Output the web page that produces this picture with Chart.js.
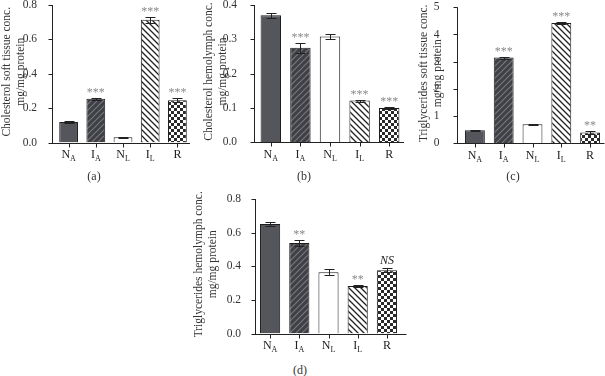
<!DOCTYPE html>
<html lang="en">
<head>
<meta charset="UTF-8">
<title>Cholesterol and triglycerides</title>
<script src="https://cdn.jsdelivr.net/npm/chart.js"></script>
<style>
  body { margin: 0; background: #fff; }
  #wrap { position: relative; width: 605px; height: 376px; overflow: hidden; }
  canvas { position: absolute; }
  .tag { position: absolute; font: 12px 'Liberation Serif', serif; color: #333; transform: translate(-50%, -50%); }
</style>
</head>
<body>
<div id="wrap">
  <canvas id="cA"></canvas>
  <canvas id="cB"></canvas>
  <canvas id="cC"></canvas>
  <canvas id="cD"></canvas>
  <div class="tag" style="left:94px;top:176px">(a)</div>
  <div class="tag" style="left:304px;top:176px">(b)</div>
  <div class="tag" style="left:513px;top:176px">(c)</div>
  <div class="tag" style="left:300px;top:370px">(d)</div>
</div>
<script>
// groups: first letter is drawn big, the rest as subscript
const groups = ['NA', 'IA', 'NL', 'IL', 'R'];

const cholSoft = [0.12, 0.254, 0.03, 0.714, 0.246];
const cholSoftErr = [0.005, 0.006, 0.002, 0.016, 0.012];
const cholSoftSig = ['', '***', '', '***', '***'];

const cholHemo = [0.37, 0.275, 0.308, 0.121, 0.099];
const cholHemoErr = [0.008, 0.015, 0.006, 0.003, 0.004];
const cholHemoSig = ['', '***', '', '***', '***'];

const trigSoft = [0.48, 3.15, 0.7, 4.42, 0.4];
const trigSoftErr = [0.02, 0.04, 0.02, 0.05, 0.07];
const trigSoftSig = ['', '***', '', '***', '**'];

const trigHemo = [0.651, 0.538, 0.365, 0.283, 0.376];
const trigHemoErr = [0.012, 0.02, 0.02, 0.006, 0.012];
const trigHemoSig = ['', '**', '', '**', 'NS'];

const SERIF = "'Liberation Serif', 'Times New Roman', serif";

// bar fills
function tile(draw) {
  const c = document.createElement('canvas');
  c.width = 6; c.height = 6;
  draw(c.getContext('2d'));
  return c.getContext('2d').createPattern(c, 'repeat');
}
const hatchDark = tile(g => {
  g.fillStyle = '#3f4045'; g.fillRect(0, 0, 6, 6);
  g.strokeStyle = '#77787d'; g.lineWidth = 1.2;
  g.beginPath();
  g.moveTo(0, 6); g.lineTo(6, 0);
  g.moveTo(-1, 1); g.lineTo(1, -1);
  g.moveTo(5, 7); g.lineTo(7, 5);
  g.stroke();
});
const hatchLight = tile(g => {
  g.fillStyle = '#fff'; g.fillRect(0, 0, 6, 6);
  g.strokeStyle = '#222'; g.lineWidth = 1.3;
  g.beginPath();
  g.moveTo(0, 0); g.lineTo(6, 6);
  g.moveTo(-1, 5); g.lineTo(1, 7);
  g.moveTo(5, -1); g.lineTo(7, 1);
  g.stroke();
});
const checker = tile(g => {
  g.fillStyle = '#fff'; g.fillRect(0, 0, 6, 6);
  g.fillStyle = '#2a2a2a';
  g.fillRect(0, 0, 3, 3); g.fillRect(3, 3, 3, 3);
});
const fills = ['#55565b', hatchDark, '#ffffff', hatchLight, checker];

function decor(p) {
  return {
    id: 'decor',
    afterDatasetsDraw(chart) {
      const ctx = chart.ctx, ca = chart.chartArea;
      const xs = chart.scales.x, ys = chart.scales.y;
      const ax = Math.round(ca.left - p.axisGap) + 0.5;
      const bot = Math.round(ca.bottom) + 0.5;
      ctx.save();
      ctx.strokeStyle = '#222';
      ctx.lineWidth = 1;
      ctx.beginPath();
      ctx.moveTo(ax, ca.top); ctx.lineTo(ax, bot);
      ctx.moveTo(ax - 2, bot); ctx.lineTo(ca.right + p.xExt, bot);
      ys.ticks.forEach(t => {
        const py = Math.round(ys.getPixelForValue(t.value)) + 0.5;
        ctx.moveTo(ax - 4, py); ctx.lineTo(ax, py);
      });
      groups.forEach((g, i) => {
        const px = Math.round(xs.getPixelForValue(i)) + 0.5;
        ctx.moveTo(px, bot); ctx.lineTo(px, bot + 4);
      });
      ctx.stroke();

      // error bars
      ctx.beginPath();
      chart.getDatasetMeta(0).data.forEach((bar, i) => {
        const cx = Math.round(bar.x) + 0.5;
        const hi = Math.round(ys.getPixelForValue(p.data[i] + p.err[i])) + 0.5;
        const lo = Math.round(ys.getPixelForValue(p.data[i] - p.err[i])) + 0.5;
        ctx.moveTo(cx, hi); ctx.lineTo(cx, lo);
        ctx.moveTo(cx - 5, hi); ctx.lineTo(cx + 5, hi);
        ctx.moveTo(cx - 5, lo); ctx.lineTo(cx + 5, lo);
      });
      ctx.stroke();

      // significance marks
      ctx.textAlign = 'center';
      ctx.textBaseline = 'alphabetic';
      chart.getDatasetMeta(0).data.forEach((bar, i) => {
        const s = p.sig[i];
        if (!s) return;
        const hi = ys.getPixelForValue(p.data[i] + p.err[i]);
        if (s === 'NS') {
          ctx.fillStyle = '#222';
          ctx.font = 'italic 12px ' + SERIF;
          ctx.fillText(s, bar.x, hi - 4);
        } else {
          ctx.fillStyle = '#8a8a8a';
          ctx.font = '12px ' + SERIF;
          ctx.fillText(s, bar.x, hi - 2);
        }
      });

      // category labels with subscripts
      ctx.fillStyle = '#222';
      ctx.textAlign = 'left';
      groups.forEach((g, i) => {
        const px = xs.getPixelForValue(i);
        const main = g[0], sub = g.slice(1);
        ctx.font = '12px ' + SERIF;
        const wm = ctx.measureText(main).width;
        ctx.font = '8px ' + SERIF;
        const wsub = sub ? ctx.measureText(sub).width : 0;
        const x0 = px - (wm + wsub) / 2;
        ctx.font = '12px ' + SERIF;
        ctx.fillText(main, x0, ca.bottom + 15.5);
        if (sub) {
          ctx.font = '8px ' + SERIF;
          ctx.fillText(sub, x0 + wm, ca.bottom + 18.5);
        }
      });

      // two-line y axis title
      ctx.fillStyle = '#333';
      ctx.font = '11.5px ' + SERIF;
      ctx.textAlign = 'center';
      ctx.textBaseline = 'middle';
      const yc = (ca.top + ca.bottom) / 2 - 2;
      p.title.forEach((line, k) => {
        ctx.save();
        ctx.translate(7 + k * 14, yc);
        ctx.rotate(-Math.PI / 2);
        ctx.fillText(line, 0, 0);
        ctx.restore();
      });
      ctx.restore();
    }
  };
}

function makePanel(p) {
  const cv = document.getElementById(p.id);
  const [bx, by, bw, bh] = p.box;
  const [al, at, ar, ab] = p.area;
  cv.width = bw; cv.height = bh;
  cv.style.left = bx + 'px'; cv.style.top = by + 'px';
  new Chart(cv, {
    type: 'bar',
    data: {
      labels: groups,
      datasets: [{
        data: p.data,
        backgroundColor: fills,
        borderColor: '#1e1e1e',
        borderWidth: 1,
        barPercentage: 0.69,
        categoryPercentage: 1
      }]
    },
    options: {
      responsive: false,
      animation: false,
      layout: { padding: { left: 0, top: at - by, right: bx + bw - ar, bottom: 0 } },
      plugins: { legend: { display: false }, tooltip: { enabled: false } },
      scales: {
        x: {
          grid: { display: false }, border: { display: false }, ticks: { display: false },
          afterFit: s => { s.height = by + bh - ab; s.paddingLeft = 0; s.paddingRight = 0; }
        },
        y: {
          min: 0, max: p.max,
          grid: { display: false }, border: { display: false },
          ticks: {
            stepSize: p.step, padding: p.tickPad, color: '#333',
            font: { family: SERIF, size: 11.5 },
            callback: v => v.toFixed(p.dec)
          },
          title: { display: false },
          afterFit: s => { s.width = al - bx; s.paddingTop = 0; s.paddingBottom = 0; }
        }
      }
    },
    plugins: [decor(p)]
  });
}

makePanel({ id: 'cA', box: [0, 0, 200, 170], area: [55, 5, 191, 142.5], axisGap: 3, xExt: -1,
  max: 0.8, step: 0.2, dec: 1, tickPad: 10,
  title: ['Cholesterol soft tissue conc.', 'mg/mg protein'],
  data: cholSoft, err: cholSoftErr, sig: cholSoftSig });

makePanel({ id: 'cB', box: [202, 0, 203, 170], area: [256, 5, 404, 142], axisGap: 2, xExt: 0,
  max: 0.4, step: 0.1, dec: 1, tickPad: 11,
  title: ['Cholesterol hemolymph conc.', 'mg/mg protein'],
  data: cholHemo, err: cholHemoErr, sig: cholHemoSig });

makePanel({ id: 'cC', box: [417, 0, 188, 170], area: [460.5, 7.3, 604.5, 143.3], axisGap: 3.5, xExt: 0,
  max: 5, step: 1, dec: 0, tickPad: 13,
  title: ['Triglycerides soft tissue conc.', 'mg/mg protein'],
  data: trigSoft, err: trigSoftErr, sig: trigSoftSig });

makePanel({ id: 'cD', box: [192, 185, 215, 170], area: [255.5, 199, 401.5, 333.5], axisGap: 0.5, xExt: 5,
  max: 0.8, step: 0.2, dec: 1, tickPad: 6.5,
  title: ['Triglycerides hemolymph conc.', 'mg/mg protein'],
  data: trigHemo, err: trigHemoErr, sig: trigHemoSig });
</script>
</body>
</html>
